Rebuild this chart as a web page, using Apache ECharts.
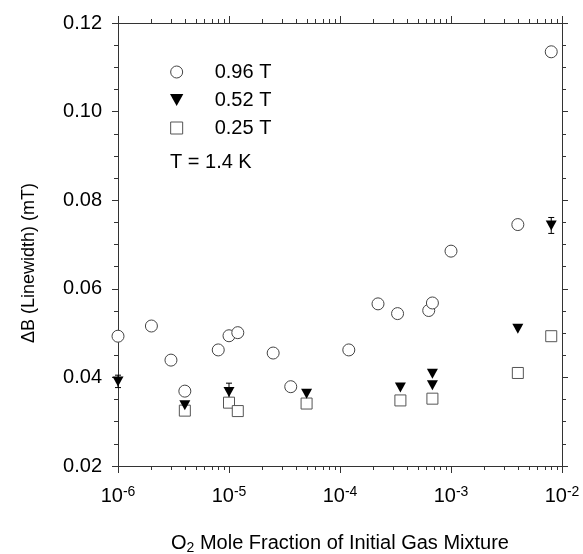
<!DOCTYPE html>
<html>
<head>
<meta charset="utf-8">
<script src="https://cdn.jsdelivr.net/npm/echarts@6/dist/echarts.min.js"></script>
<style>
html,body{margin:0;padding:0;background:#fff;}
#chart{width:583px;height:554px;}
</style>
</head>
<body>
<div id="chart"></div>
<script>
// ---- data ----
const seriesNames = ['0.96 T', '0.52 T', '0.25 T'];
const noteText = 'T = 1.4 K';

const circX = [1e-6, 2e-6, 3e-6, 4e-6, 8e-6, 1e-5, 1.2e-5, 2.5e-5, 3.6e-5, 1.2e-4, 2.2e-4, 3.3e-4, 6.3e-4, 6.8e-4, 1e-3, 4e-3, 8e-3];
const circY = [0.0493, 0.0516, 0.0439, 0.0369, 0.0462, 0.0494, 0.0501, 0.0455, 0.0379, 0.0462, 0.0566, 0.0544, 0.0551, 0.0568, 0.0685, 0.0745, 0.1135];

const triX = [1e-6, 4e-6, 1e-5, 5e-5, 3.5e-4, 6.8e-4, 6.8e-4, 4e-3, 8e-3];
const triY = [0.0391, 0.0337, 0.0367, 0.0363, 0.0377, 0.0408, 0.0382, 0.0510, 0.0743];
const triErr = [0.0014, 0.0007, 0.0020, 0, 0, 0, 0, 0, 0.0018];

const sqX = [4e-6, 1e-5, 1.2e-5, 5e-5, 3.5e-4, 6.8e-4, 4e-3, 8e-3];
const sqY = [0.0325, 0.0343, 0.0324, 0.0341, 0.0348, 0.0352, 0.0410, 0.0493];

const xMin = 1e-6, xMax = 1e-2;
const yMin = 0.02, yMax = 0.12, yInterval = 0.02;
const decades = [1e-6, 1e-5, 1e-4, 1e-3];
const minorMultipliers = [2, 3, 4, 5, 6, 7, 8, 9];

// ---- build helpers ----
const pairs = (xs, ys) => xs.map((x, i) => [x, ys[i]]);
const minorTicks = [];
decades.forEach(d => minorMultipliers.forEach(m => minorTicks.push([m * d])));
const errData = triX.map((x, i) => [x, triY[i] - triErr[i], triY[i] + triErr[i]]).filter((d, i) => triErr[i] > 0);

const FONT = '"Liberation Sans", Arial, sans-serif';
const AX = '#333';
const FS = 20;

function logAxis(pos, opts) {
  return Object.assign({
    type: 'log', logBase: 10, min: xMin, max: xMax, position: pos,
    splitLine: { show: false },
    axisLine: { show: true, lineStyle: { color: AX, width: 1 } },
    axisTick: { show: true, length: 7, lineStyle: { color: AX } },
    axisLabel: { show: false }
  }, opts);
}
function valAxis(pos, opts) {
  return Object.assign({
    type: 'value', min: yMin, max: yMax, interval: yInterval, position: pos,
    splitLine: { show: false },
    axisLine: { show: true, lineStyle: { color: AX, width: 1 } },
    axisTick: { show: true, length: 6, lineStyle: { color: AX } },
    minorTick: { show: true, splitNumber: 4, length: 4, lineStyle: { color: AX } },
    minorSplitLine: { show: false },
    axisLabel: { show: false }
  }, opts);
}

const chart = echarts.init(document.getElementById('chart'), null, { renderer: 'canvas' });

const option = {
  backgroundColor: '#fff',
  animation: false,
  textStyle: { fontFamily: FONT },
  grid: { left: 118, right: 21, top: 23, bottom: 88, containLabel: false, outerBoundsMode: 'none' },
  title: {
    text: noteText, left: 170, top: 152, padding: 0,
    textStyle: { fontFamily: FONT, fontSize: FS, fontWeight: 'normal', color: '#000' }
  },
  legend: {
    data: seriesNames, orient: 'vertical', left: 170, top: 62, padding: 0,
    itemWidth: 66, itemHeight: 12, itemGap: 8,
    itemStyle: { borderWidth: 1 },
    textStyle: { fontFamily: FONT, fontSize: FS, lineHeight: 20, color: '#000' }
  },
  xAxis: [
    logAxis('bottom', {
      axisLabel: {
        show: true, margin: 19, color: '#000', fontFamily: FONT, fontSize: FS,
        formatter: v => '{b|10}{s|' + Math.round(Math.log10(v)) + '}',
        rich: {
          b: { fontFamily: FONT, fontSize: FS, lineHeight: 22, color: '#000' },
          s: { fontFamily: FONT, fontSize: 14, lineHeight: 22, verticalAlign: 'top', color: '#000' }
        }
      },
      name: '{b|O}{s|2}{b| Mole Fraction of Initial Gas Mixture}',
      nameLocation: 'middle', nameGap: 65,
      nameTextStyle: {
        fontFamily: FONT, fontSize: FS, color: '#000',
        rich: {
          b: { fontFamily: FONT, fontSize: FS, lineHeight: 24, color: '#000' },
          s: { fontFamily: FONT, fontSize: 14, lineHeight: 24, verticalAlign: 'bottom', color: '#000' }
        }
      }
    }),
    logAxis('top', {})
  ],
  yAxis: [
    valAxis('left', {
      axisLabel: { show: true, margin: 16, color: '#000', fontFamily: FONT, fontSize: FS, formatter: v => v.toFixed(2) },
      name: 'ΔB (Linewidth) (mT)', nameLocation: 'middle', nameGap: 80, nameRotate: 90,
      nameTextStyle: { fontFamily: FONT, fontSize: 18, color: '#000', padding: [0, 37, 0, 0] }
    }),
    valAxis('right', {})
  ],
  series: [
    {
      // minor log ticks on bottom and top axes, placed through the x scale
      type: 'custom', name: 'minorTicks', xAxisIndex: 0, yAxisIndex: 0, z: 1, silent: true, clip: false,
      data: minorTicks, encode: { x: 0 },
      renderItem: function (params, api) {
        const v = api.value(0);
        const b = api.coord([v, yMin]);
        const t = api.coord([v, yMax]);
        const st = { stroke: AX, lineWidth: 1 };
        const xx = Math.round(b[0]) + 0.5;
        return {
          type: 'group', children: [
            { type: 'line', shape: { x1: xx, y1: b[1], x2: xx, y2: b[1] + 4 }, style: st },
            { type: 'line', shape: { x1: xx, y1: t[1], x2: xx, y2: t[1] - 4 }, style: st }
          ]
        };
      }
    },
    {
      type: 'custom', name: 'err', xAxisIndex: 0, yAxisIndex: 0, z: 1, silent: true,
      data: errData, encode: { x: 0, y: [1, 2] },
      renderItem: function (params, api) {
        const x = api.value(0);
        const lo = api.coord([x, api.value(1)]);
        const hi = api.coord([x, api.value(2)]);
        const w = 3;
        const st = { stroke: '#000', lineWidth: 1 };
        return {
          type: 'group', children: [
            { type: 'line', shape: { x1: lo[0], y1: lo[1], x2: hi[0], y2: hi[1] }, style: st },
            { type: 'line', shape: { x1: hi[0] - w, y1: hi[1], x2: hi[0] + w, y2: hi[1] }, style: st },
            { type: 'line', shape: { x1: lo[0] - w, y1: lo[1], x2: lo[0] + w, y2: lo[1] }, style: st }
          ]
        };
      }
    },
    {
      type: 'scatter', name: seriesNames[0], xAxisIndex: 0, yAxisIndex: 0, z: 3,
      symbol: 'circle', symbolSize: 12, clip: false,
      itemStyle: { color: '#fff', borderColor: '#444', borderWidth: 1, opacity: 1 },
      data: pairs(circX, circY)
    },
    {
      type: 'scatter', name: seriesNames[1], xAxisIndex: 0, yAxisIndex: 0, z: 4,
      symbol: 'path://M0,0 L10,0 L5,9 Z', symbolSize: [11, 10], clip: false,
      itemStyle: { color: '#000', borderWidth: 0, opacity: 1 },
      data: pairs(triX, triY)
    },
    {
      type: 'scatter', name: seriesNames[2], xAxisIndex: 0, yAxisIndex: 0, z: 3,
      symbol: 'path://M0,0 L10,0 L10,10 L0,10 Z', symbolSize: 11, clip: false,
      itemStyle: { color: '#fff', borderColor: '#555', borderWidth: 1, opacity: 1 },
      data: pairs(sqX, sqY)
    }
  ]
};
chart.setOption(option);
</script>
</body>
</html>
